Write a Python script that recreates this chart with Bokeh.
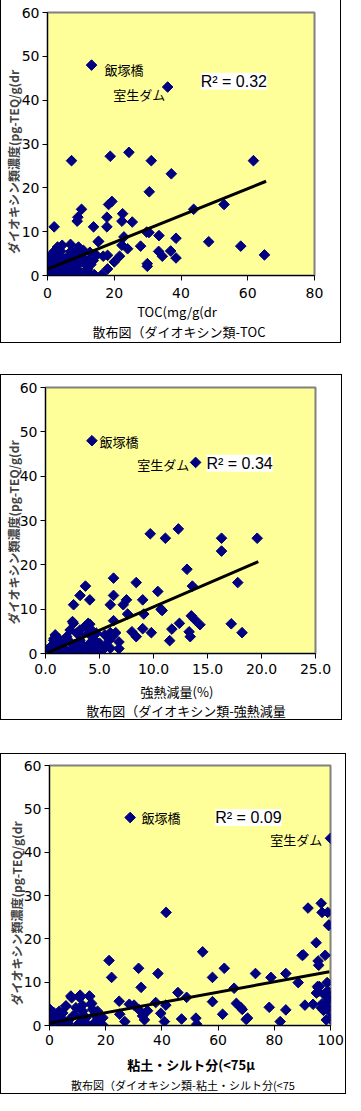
import numpy as np
from bokeh.plotting import figure
from bokeh.models import Range1d, Label, FixedTicker, PrintfTickFormatter, Div
from bokeh.layouts import column
from bokeh.embed import file_html
from bokeh.resources import INLINE

# ---------------- data ----------------
y_title = "ダイオキシン類濃度(pg-TEQ/g(dr"
y_ticks = [0, 10, 20, 30, 40, 50, 60]

# Panel 1: TOC
toc_x = [13.2, 36.0, 7.2, 18.8, 24.4, 31.1, 61.7, 37.1, 30.5, 18.3, 19.3, 10.2, 43.8, 52.9,
         8.9, 9.1, 2.0, 13.8, 17.8, 17.8, 22.5, 22.3, 25.4, 29.7, 30.4, 33.4, 38.5, 48.3,
         57.9, 65.0, 15.3, 27.9, 22.9, 33.3, 36.9, 34.4, 38.5, 29.9, 29.9, 20.0, 21.6, 24.0,
         22.3, 18.0, 16.7, 18.0, 16.3, 14.0, 15.2,
         4.4, 6.9, 9.3, 10.8, 12.7, 14.7, 13.7, 11.8, 9.8, 7.8, 5.9, 3.9, 2.5, 1.5, 1.0, 0.5,
         3.4, 5.4, 7.4, 8.8, 10.3, 11.3, 12.7, 14.2, 0.3, 0.8, 1.2, 1.8, 2.2, 2.8, 3.2, 0.5,
         1.5, 2.0, 0.2, 0.6, 1.1, 1.6, 2.4, 3.0, 3.6, 4.2, 4.8, 5.5, 6.2, 6.5, 7.0, 7.5, 8.2,
         8.5, 9.0, 10.0, 11.0, 12.0, 12.5, 13.0, 4.0, 3.0, 0.4, 0.9, 1.3, 1.9, 2.6, 5.0, 6.0]
toc_y = [48.0, 43.0, 26.2, 27.2, 28.1, 26.2, 26.2, 23.2, 19.1, 16.2, 16.9, 15.1, 15.1, 16.2,
         12.4, 13.3, 11.1, 11.1, 13.3, 11.1, 14.1, 12.4, 12.2, 9.9, 9.8, 9.1, 8.5, 7.7,
         6.7, 4.7, 7.8, 6.7, 8.8, 5.5, 5.6, 4.4, 4.0, 2.7, 2.1, 3.1, 4.4, 6.1,
         6.9, 4.6, 4.4, 1.5, 0.2, 0.2, 7.7,
         6.9, 7.1, 6.5, 5.7, 5.3, 4.6, 3.4, 2.3, 0.8, 0.2, 0.4, 1.5, 3.8, 5.0, 2.7, 0.8,
         4.6, 3.8, 3.1, 4.2, 3.1, 1.1, 0.4, 0.0, 0.2, 1.5, 0.5, 2.0, 1.0, 2.5, 0.3, 3.5,
         4.0, 5.5, 1.2, 2.2, 3.2, 1.2, 0.6, 1.8, 3.0, 2.0, 1.0, 2.5, 1.6, 4.5, 5.5, 2.0, 0.9,
         5.6, 2.6, 4.8, 3.8, 1.5, 3.5, 2.5, 5.5, 6.5, 0.3, 0.6, 2.8, 3.3, 4.2, 0.6, 3.0]
toc_trend_x = [0.2, 65.5]
toc_trend_y = [1.5, 21.5]

# Panel 2: ignition loss
il_x = [4.3, 13.9, 9.7, 11.1, 12.3, 16.3, 19.6, 16.3, 13.1, 6.3, 8.4, 17.8, 3.7, 13.6, 10.4,
        3.2, 4.1, 6.3, 2.6, 6.0, 7.2, 7.5, 9.0, 7.6, 9.1, 10.7, 10.8, 13.5, 13.8, 12.4, 14.3,
        17.2, 18.2, 8.0, 8.4, 9.0, 9.8, 11.7, 11.5, 13.3, 13.4, 6.3, 6.5, 6.8, 6.8, 6.0, 2.5,
        4.1, 0.8,
        0.15, 0.46, 0.76, 1.06, 1.37, 1.67, 1.97, 2.28, 2.58, 2.89, 3.19, 3.49, 3.8, 4.1,
        4.4, 4.7, 5.01, 5.3, 5.6, 5.9, 3.19, 3.65, 3.95, 4.25, 4.56, 4.86, 0.9, 1.2,
        0.3, 0.6, 1.0, 1.5, 2.0, 2.5, 3.0, 2.2, 2.7, 3.3, 4.0, 4.5, 5.5, 6.0, 6.2, 1.8, 2.4,
        3.6, 4.9, 5.2, 0.5, 1.3, 2.9, 3.4, 4.3]
il_y = [48.0, 43.1, 27.0, 26.0, 28.1, 26.0, 26.0, 23.1, 19.0, 17.0, 16.0, 16.0, 15.2, 15.2, 14.0,
        13.1, 12.1, 13.1, 11.0, 11.0, 11.0, 12.1, 12.1, 8.9, 8.9, 10.0, 9.7, 8.5, 7.7, 6.8, 6.5,
        6.7, 4.7, 4.9, 3.8, 5.6, 4.7, 5.5, 2.9, 4.9, 3.8, 7.4, 4.7, 2.6, 1.1, 4.7, 7.2,
        6.6, 3.4,
        0.8, 1.5, 3.0, 1.9, 0.8, 2.3, 3.8, 5.3, 6.8, 4.6, 3.0, 1.5, 0.8, 2.3,
        3.8, 4.6, 2.3, 0.8, 1.9, 3.0, 5.3, 6.1, 6.8, 5.3, 3.0, 1.1, 4.2, 3.4,
        0.2, 0.4, 0.3, 1.5, 0.5, 1.2, 0.2, 2.8, 2.0, 4.0, 4.5, 0.5, 4.2, 1.2, 3.8, 0.1, 0.3,
        0.4, 0.2, 0.6, 0.1, 2.5, 1.0, 2.0, 1.5]
il_trend_x = [0.15, 19.7]
il_trend_y = [0.15, 20.7]

# Panel 3: clay/silt fraction
silt_x = [28.7, 100.0, 41.5, 92.0, 96.7, 97.0, 99.0, 99.3, 94.9, 89.9, 98.1, 95.6, 95.8, 54.5,
          21.2, 22.1, 31.7, 38.6, 32.6, 58.0, 62.2, 73.3, 78.8, 84.1, 88.5, 98.8, 95.6, 99.2,
          65.7, 45.7, 48.8, 24.8, 58.0, 66.5, 68.0, 68.6, 61.6, 70.5, 70.0, 78.2, 84.1, 82.1,
          90.9, 93.8, 96.7, 47.0, 52.1, 52.4, 40.9, 41.4, 37.8, 39.6, 33.8, 33.1, 30.1, 28.4,
          26.8, 25.0, 31.9, 34.9, 95.4, 95.7, 90.3, 99.5,
          97.0, 98.0, 99.0, 99.5, 100.0, 100.0, 98.5, 99.0, 100.0, 97.5, 96.0, 95.0, 100.0, 98.0,
          0.2, 0.6, 1.2, 1.8, 2.9, 4.1, 5.3, 5.9, 7.1, 7.9, 8.8, 10.0, 10.8, 11.8, 13.0, 14.2,
          14.7, 15.9, 17.1, 17.7, 18.9, 15.3, 3.5, 4.7, 6.5, 9.4, 11.2, 13.6, 0.3, 0.8, 1.5,
          2.2, 0.5, 1.0, 2.5, 3.0, 12.0, 16.0, 19.0, 5.8, 7.6, 10.9, 14.3, 15.0, 11.7]
silt_y = [48.0, 43.2, 26.1, 27.1, 28.2, 26.1, 26.1, 23.1, 19.1, 16.2, 16.2, 14.9, 13.9, 17.0,
          15.0, 11.1, 13.2, 12.0, 8.8, 11.1, 13.2, 12.0, 11.1, 12.0, 9.9, 9.9, 8.7, 6.9,
          8.6, 7.6, 6.5, 5.6, 5.5, 5.1, 4.2, 3.7, 2.6, 1.7, 1.4, 4.2, 3.6, 0.9,
          4.7, 4.9, 4.1, 1.5, 1.7, 0.3, 0.9, 4.7, 5.3, 2.8, 1.3, 2.2, 4.7, 4.9,
          0.9, 2.6, 3.6, 3.4, 9.0, 7.8, 16.3, 23.2,
          5.0, 7.0, 4.0, 6.0, 3.0, 1.5, 1.3, 8.0, 5.5, 3.5, 9.0, 7.5, 6.8, 4.5,
          3.7, 1.4, 0.2, 2.5, 1.0, 1.8, 0.2, 4.5, 1.4, 6.4, 2.5, 0.2, 6.4, 3.3, 1.8, 6.8,
          4.9, 0.6, 3.3, 1.4, 0.2, 3.7, 3.3, 2.9, 0.6, 4.1, 1.0, 0.2, 0.5, 2.2, 3.0,
          1.8, 1.0, 0.6, 2.6, 0.4, 2.2, 2.5, 1.8, 4.5, 6.8, 7.0, 6.7, 5.1, 4.7]
silt_trend_x = [0.2, 99.6]
silt_trend_y = [0.6, 12.4]

FONT_JP = "Noto Sans CJK JP"
NAVY = "#000080"
YELLOW = "#FFFF99"


def text_div(txt, width, height, mtop, mleft, size, bold=False, mbottom=0):
    return Div(text=txt, width=width, height=height, margin=(mtop, 0, mbottom, mleft),
               styles={"font-family": FONT_JP, "font-size": size, "line-height": f"{height}px",
                       "text-align": "center", "white-space": "nowrap", "color": "black",
                       "font-weight": "bold" if bold else "normal", "overflow": "visible"})


def panel(xs, ys, tx, ty, xmax, xticks, xfmt, geom, labels, r2, ystand, ypad):
    (w, h, ml, mr, mt, mb, tick_standoff) = geom
    p = figure(width=w, height=h,
               min_border_left=ml, min_border_right=mr, min_border_top=mt, min_border_bottom=mb,
               x_range=Range1d(0, xmax), y_range=Range1d(0, 60),
               output_backend="svg", toolbar_location=None, tools="")
    p.background_fill_color = YELLOW
    p.border_fill_color = None
    p.outline_line_color = "#808080"
    p.outline_line_width = 2
    p.grid.visible = False
    for ax in (p.xaxis[0], p.yaxis[0]):
        ax.axis_line_color = "black"
        ax.axis_line_width = 1
        ax.major_tick_out = 5
        ax.major_tick_in = 0
        ax.minor_tick_line_color = None
        ax.major_label_text_font = "DejaVu Sans"
        ax.major_label_text_font_size = "14px"
        ax.major_label_text_color = "black"
    p.yaxis.ticker = FixedTicker(ticks=y_ticks)
    p.yaxis.major_label_standoff = 3
    p.xaxis.ticker = FixedTicker(ticks=xticks)
    p.xaxis.major_label_standoff = tick_standoff
    if xfmt:
        p.xaxis.formatter = PrintfTickFormatter(format=xfmt)

    p.scatter(xs, ys, marker="square", angle=np.pi / 4, size=7.5,
              fill_color=NAVY, line_color=NAVY)
    p.line(tx, ty, line_color="black", line_width=3)

    for (txt, lx, ly) in labels:
        p.add_layout(Label(x=lx, y=ly, text=txt, text_font=FONT_JP, text_font_size="13px",
                           text_baseline="middle", text_align="left", text_color="black"))
    (rtxt, rx, ry) = r2
    p.add_layout(Label(x=rx, y=ry, text=rtxt, text_font="Liberation Sans", text_font_size="16px",
                       text_baseline="middle", text_align="left", text_color="black",
                       background_fill_color="white"))

    p.yaxis.axis_label = y_title + "\u3000" * ypad
    p.yaxis.axis_label_text_font = FONT_JP
    p.yaxis.axis_label_text_font_size = "12px"
    p.yaxis.axis_label_text_font_style = "bold"
    p.yaxis.axis_label_standoff = ystand
    return p


BORDER = {"border": "1px solid black", "background-color": "white"}

# ---- panel 1 ----
f1 = panel(toc_x, toc_y, toc_trend_x, toc_trend_y, 80, [0, 20, 40, 60, 80], None,
           (339, 310, 41, 26, 13, 34, 7),
           [("飯塚橋", 17.1, 47.0), ("室生ダム", 19.7, 41.3)],
           ("R² = 0.32", 45.9, 44.3), -3, 3)
t1 = text_div("TOC(mg/g(dr", 300, 16, -5, 26, "13px")
c1 = text_div("散布図（ダイオキシン類-TOC", 300, 16, 4, 28, "13px", mbottom=2)
panel1 = column(f1, t1, c1, spacing=0, styles=BORDER, margin=(-2, 0, 0, 0))

# ---- panel 2 ----
f2 = panel(il_x, il_y, il_trend_x, il_trend_y, 25, [0, 5, 10, 15, 20, 25], "%.1f",
           (340, 312, 39, 26, 12, 34, 5),
           [("飯塚橋", 5.0, 47.9), ("室生ダム", 8.5, 42.7)],
           ("R² = 0.34", 14.9, 42.9), -5, 2)
t2 = text_div("強熱減量(%)", 300, 16, -3, 26, "13px")
c2 = text_div("散布図（ダイオキシン類-強熱減量", 300, 16, 3, 35, "13px", mbottom=0)
panel2 = column(f2, t2, c2, spacing=0, styles=BORDER, margin=(31, 0, 0, 0))

# ---- panel 3 ----
f3 = panel(silt_x, silt_y, silt_trend_x, silt_trend_y, 100, [0, 20, 40, 60, 80, 100], None,
           (344, 305, 48, 15, 11, 34, 4),
           [("飯塚橋", 32.7, 47.9), ("室生ダム", 78.6, 42.9)],
           ("R² = 0.09", 59.0, 48.0), -4, 3)
t3 = text_div("粘土・シルト分(<75μ", 300, 16, -2, 40, "13px", bold=True)
c3 = text_div("散布図（ダイオキシン類-粘土・シルト分(<75", 300, 14, 5, 32, "11px", mbottom=1)
panel3 = column(f3, t3, c3, spacing=0, styles=BORDER, margin=(33, 0, 0, 0))

layout = column(panel1, panel2, panel3, spacing=0)
open("out.html", "w").write(file_html(layout, INLINE))
